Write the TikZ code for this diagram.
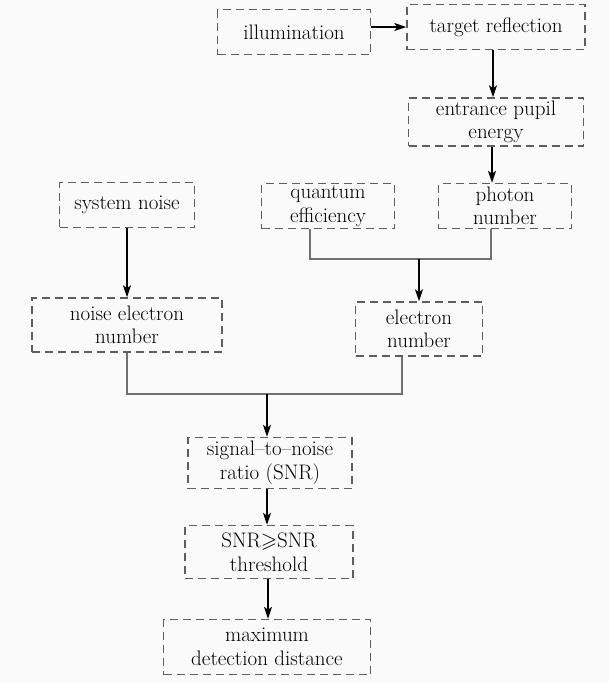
\documentclass[tikz,border=0pt]{standalone}
\usepackage{amssymb}
\usetikzlibrary{arrows.meta,calc}
\definecolor{bg}{HTML}{FAFAFA}
\definecolor{boxc}{HTML}{5E5E5E}
\definecolor{joinc}{HTML}{707070}
\begin{document}
\begin{tikzpicture}[x=1pt,y=-1pt,
  blk/.style={draw=boxc,line width=1.5pt,dash pattern=on 8pt off 5pt,align=center,inner sep=0pt,
    font=\fontsize{21}{23.5}\selectfont},
  arr/.style={draw=black,line width=1.5pt,-{Stealth[length=12pt,width=8pt,inset=3pt]}},
  joinline/.style={draw=joinc,line width=1.8pt}]
\fill[bg] (0,0) rectangle (609,683);
\useasboundingbox (0,0) rectangle (609,683);
\node[blk,minimum width=153pt,minimum height=45pt] (ill) at (294,32) {illumination};
\node[blk,minimum width=178pt,minimum height=45pt] (tr) at (496,27) {target reflection};
\node[blk,minimum width=175pt,minimum height=48pt] (epe) at (496,122) {entrance pupil\\energy};
\node[blk,minimum width=133pt,minimum height=45pt] (ph) at (505,206) {photon\\number};
\node[blk,minimum width=133pt,minimum height=45pt] (qe) at (328,206) {quantum\\efficiency};
\node[blk,minimum width=135pt,minimum height=45pt] (sn) at (127,205) {system noise};
\node[blk,minimum width=190pt,minimum height=54pt] (nen) at (127,325) {noise electron\\number};
\node[blk,minimum width=127pt,minimum height=54pt] (en) at (419,329) {electron\\number};
\node[blk,minimum width=164pt,minimum height=51pt] (snr) at (270,463) {signal--to--noise\\ratio (SNR)};
\node[blk,minimum width=168pt,minimum height=53pt] (thr) at (269,552) {SNR$\geqslant$SNR\\threshold};
\node[blk,minimum width=207pt,minimum height=55pt] (mdd) at (267,647) {maximum\\detection distance};
\coordinate (j1) at (419,259);
\coordinate (j2) at (267,394);
\draw[arr] (ill.east |- tr.west) -- (tr.west);
\draw[arr] ([xshift=-3pt]tr.south) -- ([xshift=-3pt]tr.south |- epe.north);
\draw[arr] ([xshift=-4pt]epe.south) -- ([xshift=-4pt]epe.south |- ph.north);
\draw[arr] (sn.south) -- (nen.north);
\draw[joinline] ([xshift=-18pt]qe.south) |- (j1) -| ([xshift=-14pt]ph.south);
\draw[arr] (j1) -- (en.north);
\draw[joinline] (nen.south) |- (j2) -| ([xshift=-17pt]en.south);
\draw[arr] (j2) -- (j2 |- snr.north);
\draw[arr] (j2 |- snr.south) -- (j2 |- thr.north);
\draw[arr] ([xshift=-1pt]thr.south) -- ([xshift=-1pt]thr.south |- mdd.north);
\end{tikzpicture}
\end{document}
